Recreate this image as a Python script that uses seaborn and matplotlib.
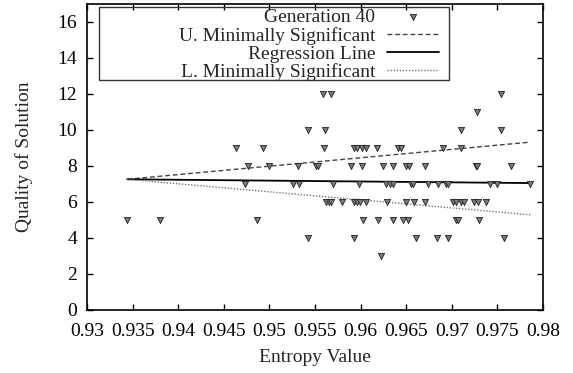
import matplotlib
matplotlib.use("Agg")
import matplotlib.pyplot as plt
import seaborn as sns
import pandas as pd
from matplotlib.patches import Rectangle

# ---- data ----
entropy = [
    # quality 12
    0.9559, 0.9567, 0.9754,
    # 11
    0.9728,
    # 10
    0.9542, 0.9561, 0.9710, 0.9754,
    # 9
    0.9463, 0.9493, 0.9560, 0.9593, 0.9596, 0.9601, 0.9606, 0.9618, 0.9641, 0.9644, 0.9690, 0.9710,
    # 8
    0.9477, 0.9500, 0.9531, 0.9551, 0.9553, 0.9590, 0.9602, 0.9625, 0.9636, 0.9650, 0.9653, 0.9671,
    0.9726, 0.9728, 0.9765,
    # 7
    0.9473, 0.9526, 0.9532, 0.9570, 0.9598, 0.9628, 0.9632, 0.9635, 0.9655, 0.9657, 0.9674, 0.9685,
    0.9694, 0.9696, 0.9742, 0.9750, 0.9786,
    # 6
    0.9562, 0.9565, 0.9568, 0.9580, 0.9593, 0.9596, 0.9599, 0.9606, 0.9629, 0.9650, 0.9659, 0.9671,
    0.9701, 0.9705, 0.9710, 0.9713, 0.9724, 0.9729, 0.9737,
    # 5
    0.9344, 0.9380, 0.9486, 0.9603, 0.9619, 0.9635, 0.9646, 0.9652, 0.9705, 0.9707, 0.9730,
    # 4
    0.9542, 0.9593, 0.9661, 0.9684, 0.9696, 0.9757,
    # 3
    0.9622,
]
quality = (
    [12] * 3 + [11] * 1 + [10] * 4 + [9] * 12 + [8] * 15 + [7] * 17 + [6] * 19 + [5] * 11 + [4] * 6 + [3] * 1
)

line_x = [0.9344, 0.9786]
upper_y = [7.25, 9.31]
regression_y = [7.25, 7.04]
lower_y = [7.25, 5.28]

x_ticks = [0.93, 0.935, 0.94, 0.945, 0.95, 0.955, 0.96, 0.965, 0.97, 0.975, 0.98]
x_tick_labels = ["0.93", "0.935", "0.94", "0.945", "0.95", "0.955", "0.96", "0.965", "0.97", "0.975", "0.98"]
y_ticks = [0, 2, 4, 6, 8, 10, 12, 14, 16]

series_labels = ["Generation 40", "U. Minimally Significant", "Regression Line", "L. Minimally Significant"]

# ---- style ----
sns.set_style("ticks")
plt.rcParams["font.family"] = ["Liberation Serif", "DejaVu Serif"]
plt.rcParams["font.size"] = 14

W, H = 573, 373
fig = plt.figure(figsize=(W / 100, H / 100), dpi=100)
L, R, T, B = 87, 543, 3.5, 310
ax = fig.add_axes([L / W, 1 - B / H, (R - L) / W, (B - T) / H])

pts = pd.DataFrame({"entropy": entropy, "quality": quality})
sns.scatterplot(data=pts, x="entropy", y="quality", ax=ax, marker="v", s=20,
                color="#7a7a7a", edgecolor="#222222", linewidth=0.6, label=series_labels[0], zorder=3)

lines = pd.DataFrame({"x": line_x, "u": upper_y, "r": regression_y, "l": lower_y})
sns.lineplot(data=lines, x="x", y="u", ax=ax, color="#444444", lw=1.0, linestyle=(0, (3.5, 2.0)),
             label=series_labels[1], estimator=None, sort=False)
sns.lineplot(data=lines, x="x", y="r", ax=ax, color="black", lw=1.3, label=series_labels[2],
             estimator=None, sort=False)
sns.lineplot(data=lines, x="x", y="l", ax=ax, color="#777777", lw=1.0, linestyle=(0, (1, 1.2)),
             label=series_labels[3], estimator=None, sort=False)

ax.set_xlim(0.93, 0.98)
ax.set_ylim(0, 17)
ax.set_xticks(x_ticks)
ax.set_xticklabels(x_tick_labels)
ax.set_yticks(y_ticks)
ax.tick_params(direction="in", length=4.5, width=1, top=True, right=True, labelsize=14, colors="black")
ax.tick_params(axis="x", pad=9)
ax.tick_params(axis="y", pad=7)
for sp in ax.spines.values():
    sp.set_visible(True)
    sp.set_linewidth(1.2)
    sp.set_color("black")

ax.set_xlabel("Entropy Value", fontsize=14, labelpad=7)
ax.set_ylabel("Quality of Solution", fontsize=14, labelpad=18)

def ax_x(px):
    return (px - L) / (R - L)

def ax_y(py):
    return (B - py) / (B - T)

leg = ax.legend(loc="upper right", bbox_to_anchor=(ax_x(438.5), ax_y(8.5)), frameon=False,
                markerfirst=False, borderpad=0, borderaxespad=0, handlelength=2.65,
                handletextpad=0.6, labelspacing=0.03, fontsize=14, scatterpoints=1)

ax.add_patch(Rectangle((ax_x(98.5), ax_y(80)), ax_x(449) - ax_x(98.5), ax_y(7.3) - ax_y(80),
                       transform=ax.transAxes, fill=False, edgecolor="#333333", lw=1.0, zorder=5))

fig.savefig("out.png", dpi=100)
